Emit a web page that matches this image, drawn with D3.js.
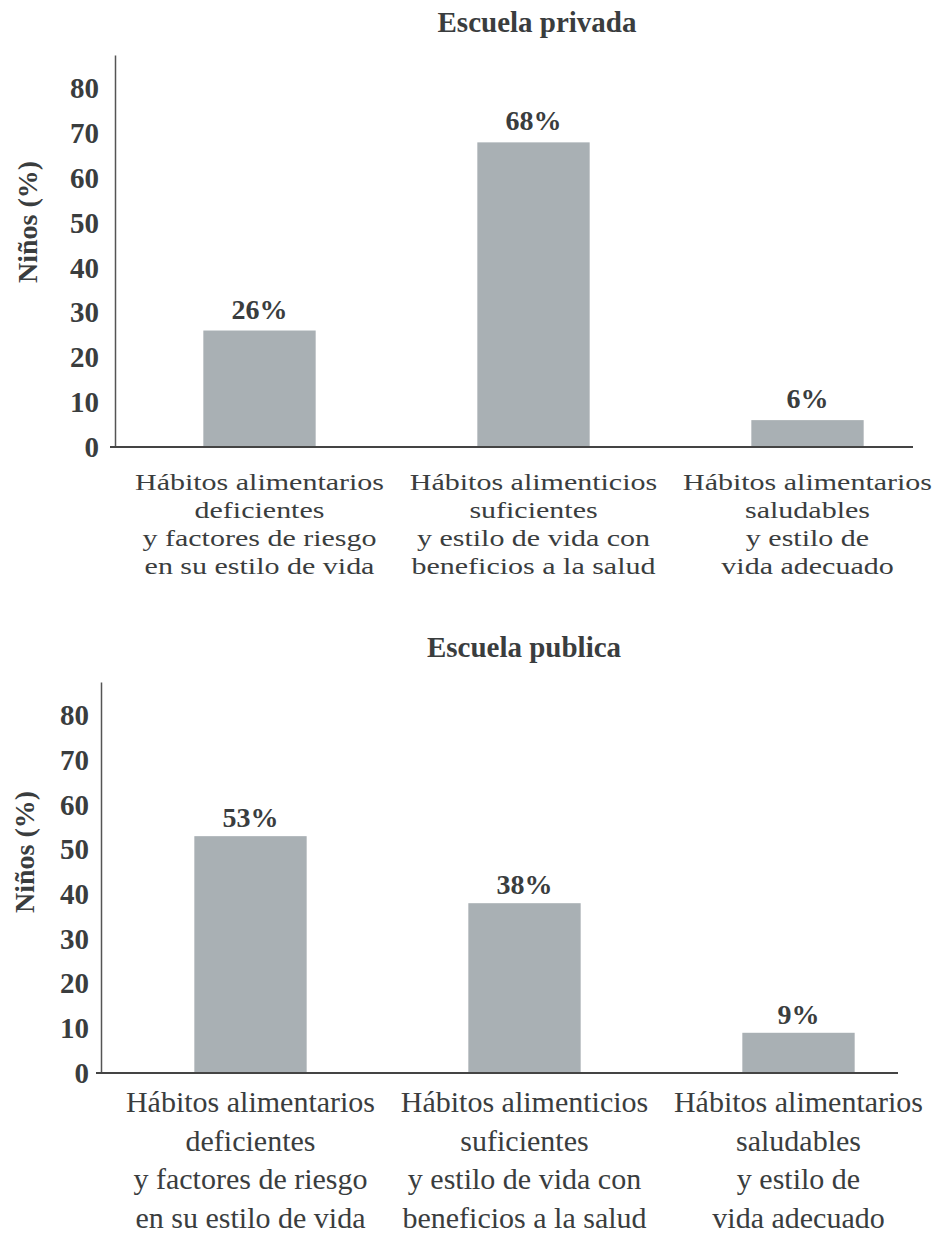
<!DOCTYPE html>
<html>
<head>
<meta charset="utf-8">
<script src="https://cdn.jsdelivr.net/npm/d3@7"></script>
<style>
  body { margin: 0; background: #fff; }
  svg { display: block; font-family: "Liberation Serif", "Times New Roman", serif; }
</style>
</head>
<body>
<svg id="chart" width="942" height="1247"></svg>
<script>
// categories (each one is split in lines like the original)
var categories = [
    ["Hábitos alimentarios", "deficientes", "y factores de riesgo", "en su estilo de vida"],
    ["Hábitos alimenticios", "suficientes", "y estilo de vida con", "beneficios a la salud"],
    ["Hábitos alimentarios", "saludables", "y estilo de", "vida adecuado"]
];
var privada = [26, 68, 6];
var publica = [53, 38, 9];
var yTicks = [0, 10, 20, 30, 40, 50, 60, 70, 80];
var titles = ["Escuela privada", "Escuela publica"];
var yLabel = "Niños (%)";

var textColor = "#3a3d3e",
    barColor = "#a9b0b4";

var svg = d3.select("#chart");

svg.append("rect")
    .attr("width", 942)
    .attr("height", 1247)
    .attr("fill", "#fff");

// one panel per school
// top panel has tightly packed category lines -> smaller font stretched sideways
var panels = [
    {title: titles[0], values: privada, y0: 447, yTop: 55, axisX: 115, tickX: 99,
     bandRange: [122.5, 944.5], axisEnd: 913, titleX: 537, titleY: 32,
     labelX: 37, labelY: 222, valueGap: 12, lineStart: 43, lineStep: 28,
     catSize: 24, catStretch: 1.25},
    {title: titles[1], values: publica, y0: 1073, yTop: 682, axisX: 101, tickX: 89,
     bandRange: [113.5, 935.5], axisEnd: 898, titleX: 524, titleY: 657,
     labelX: 34, labelY: 852, valueGap: 9, lineStart: 39, lineStep: 38.7,
     catSize: 30, catStretch: 1}
];

panels.forEach(function(p) {

    var g = svg.append("g");

    var x = d3.scaleBand()
        .domain(d3.range(categories.length))
        .range(p.bandRange)
        .paddingInner(0.59)
        .paddingOuter(0.295);

    var y = d3.scaleLinear()
        .domain([0, 87.5])
        .range([p.y0, p.yTop]);

    // title
    g.append("text")
        .attr("x", p.titleX)
        .attr("y", p.titleY)
        .attr("text-anchor", "middle")
        .style("font-size", "29px")
        .style("font-weight", "bold")
        .style("fill", textColor)
        .text(p.title);

    // y axis: only the line and the labels, no ticks
    var yAxis = g.append("g")
        .attr("transform", "translate(" + p.axisX + ",0)")
        .call(d3.axisLeft(y).tickValues(yTicks).tickSize(0).tickPadding(p.axisX - p.tickX));

    yAxis.select(".domain")
        .attr("stroke", "#555")
        .attr("stroke-width", 1.5);

    yAxis.selectAll("text")
        .style("font-family", "'Liberation Serif', 'Times New Roman', serif")
        .style("font-size", "29px")
        .style("font-weight", "bold")
        .style("fill", textColor);

    // y axis title
    g.append("text")
        .attr("transform", "translate(" + p.labelX + "," + p.labelY + ") rotate(-90)")
        .attr("text-anchor", "middle")
        .style("font-size", "28px")
        .style("font-weight", "bold")
        .style("fill", textColor)
        .text(yLabel);

    // bars
    g.selectAll(".bar")
        .data(p.values)
        .enter()
        .append("rect")
        .attr("class", "bar")
        .attr("x", (d, i) => x(i))
        .attr("y", d => y(d))
        .attr("width", x.bandwidth())
        .attr("height", d => y(0) - y(d))
        .attr("fill", barColor);

    // value labels
    g.selectAll(".value")
        .data(p.values)
        .enter()
        .append("text")
        .attr("class", "value")
        .attr("x", (d, i) => x(i) + x.bandwidth() / 2)
        .attr("y", d => y(d) - p.valueGap)
        .attr("text-anchor", "middle")
        .style("font-size", "28px")
        .style("font-weight", "bold")
        .style("fill", textColor)
        .text(d => d + "%");

    // x axis line
    g.append("line")
        .attr("x1", p.axisX - 5)
        .attr("x2", p.axisEnd)
        .attr("y1", y(0))
        .attr("y2", y(0))
        .attr("stroke", "#444")
        .attr("stroke-width", 2);

    // category labels, several lines each
    var cat = g.selectAll(".cat")
        .data(categories)
        .enter()
        .append("text")
        .attr("class", "cat")
        .attr("transform", (d, i) => "translate(" + (x(i) + x.bandwidth() / 2) + ",0) scale(" + p.catStretch + ",1)")
        .attr("text-anchor", "middle")
        .style("font-size", p.catSize + "px")
        .style("fill", textColor);

    cat.selectAll("tspan")
        .data(d => d)
        .enter()
        .append("tspan")
        .attr("x", 0)
        .attr("y", (d, j) => y(0) + p.lineStart + j * p.lineStep)
        .text(d => d);
});
</script>
</body>
</html>
